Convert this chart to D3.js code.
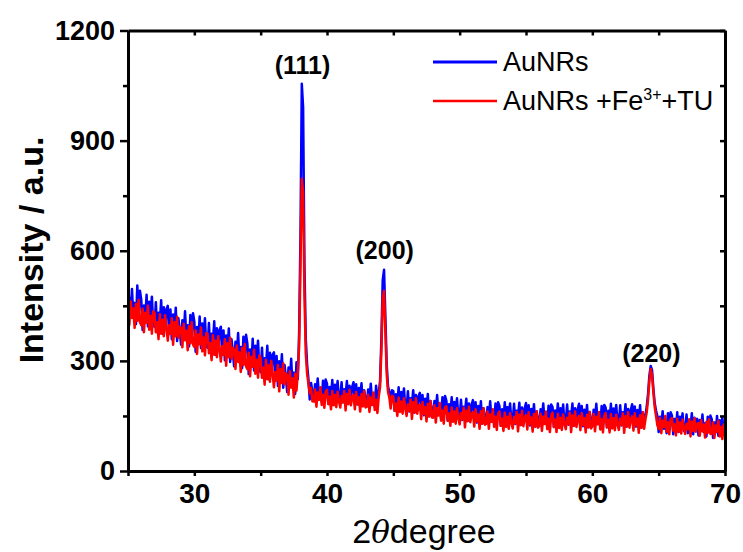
<!DOCTYPE html>
<meta charset='utf-8'>
<style>
body { margin: 0; background: #fff; }
svg { font-family: Arial, "Liberation Sans", sans-serif; }
.axis path, .axis line { stroke: #000; stroke-width: 2.5; }
.axis .domain { stroke-width: 3; }
.axis text { font-size: 27px; font-weight: bold; fill: #000; font-family: Arial, "Liberation Sans", sans-serif; }
.xaxis text { font-size: 28px; }
.peak { font-size: 25px; font-weight: bold; text-anchor: middle; }
.legend text { font-size: 27px; }
.xrd { fill: none; stroke-width: 2.5; stroke-linejoin: round; }
</style>
<svg width='743' height='552'></svg>
<script src='https://d3js.org/d3.v7.min.js'></script>
<script>

// 2θ, one row per degree
var twoTheta = [
  25.0,25.1,25.2,25.3,25.4,25.5,25.6,25.7,25.8,25.9,
  26.0,26.1,26.2,26.3,26.4,26.5,26.6,26.7,26.8,26.9,
  27.0,27.1,27.2,27.3,27.4,27.5,27.6,27.7,27.8,27.9,
  28.0,28.1,28.2,28.3,28.4,28.5,28.6,28.7,28.8,28.9,
  29.0,29.1,29.2,29.3,29.4,29.5,29.6,29.7,29.8,29.9,
  30.0,30.1,30.2,30.3,30.4,30.5,30.6,30.7,30.8,30.9,
  31.0,31.1,31.2,31.3,31.4,31.5,31.6,31.7,31.8,31.9,
  32.0,32.1,32.2,32.3,32.4,32.5,32.6,32.7,32.8,32.9,
  33.0,33.1,33.2,33.3,33.4,33.5,33.6,33.7,33.8,33.9,
  34.0,34.1,34.2,34.3,34.4,34.5,34.6,34.7,34.8,34.9,
  35.0,35.1,35.2,35.3,35.4,35.5,35.6,35.7,35.8,35.9,
  36.0,36.1,36.2,36.3,36.4,36.5,36.6,36.7,36.8,36.9,
  37.0,37.1,37.2,37.3,37.4,37.5,37.6,37.7,37.8,37.9,
  38.0,38.1,38.2,38.3,38.4,38.5,38.6,38.7,38.8,38.9,
  39.0,39.1,39.2,39.3,39.4,39.5,39.6,39.7,39.8,39.9,
  40.0,40.1,40.2,40.3,40.4,40.5,40.6,40.7,40.8,40.9,
  41.0,41.1,41.2,41.3,41.4,41.5,41.6,41.7,41.8,41.9,
  42.0,42.1,42.2,42.3,42.4,42.5,42.6,42.7,42.8,42.9,
  43.0,43.1,43.2,43.3,43.4,43.5,43.6,43.7,43.8,43.9,
  44.0,44.1,44.2,44.3,44.4,44.5,44.6,44.7,44.8,44.9,
  45.0,45.1,45.2,45.3,45.4,45.5,45.6,45.7,45.8,45.9,
  46.0,46.1,46.2,46.3,46.4,46.5,46.6,46.7,46.8,46.9,
  47.0,47.1,47.2,47.3,47.4,47.5,47.6,47.7,47.8,47.9,
  48.0,48.1,48.2,48.3,48.4,48.5,48.6,48.7,48.8,48.9,
  49.0,49.1,49.2,49.3,49.4,49.5,49.6,49.7,49.8,49.9,
  50.0,50.1,50.2,50.3,50.4,50.5,50.6,50.7,50.8,50.9,
  51.0,51.1,51.2,51.3,51.4,51.5,51.6,51.7,51.8,51.9,
  52.0,52.1,52.2,52.3,52.4,52.5,52.6,52.7,52.8,52.9,
  53.0,53.1,53.2,53.3,53.4,53.5,53.6,53.7,53.8,53.9,
  54.0,54.1,54.2,54.3,54.4,54.5,54.6,54.7,54.8,54.9,
  55.0,55.1,55.2,55.3,55.4,55.5,55.6,55.7,55.8,55.9,
  56.0,56.1,56.2,56.3,56.4,56.5,56.6,56.7,56.8,56.9,
  57.0,57.1,57.2,57.3,57.4,57.5,57.6,57.7,57.8,57.9,
  58.0,58.1,58.2,58.3,58.4,58.5,58.6,58.7,58.8,58.9,
  59.0,59.1,59.2,59.3,59.4,59.5,59.6,59.7,59.8,59.9,
  60.0,60.1,60.2,60.3,60.4,60.5,60.6,60.7,60.8,60.9,
  61.0,61.1,61.2,61.3,61.4,61.5,61.6,61.7,61.8,61.9,
  62.0,62.1,62.2,62.3,62.4,62.5,62.6,62.7,62.8,62.9,
  63.0,63.1,63.2,63.3,63.4,63.5,63.6,63.7,63.8,63.9,
  64.0,64.1,64.2,64.3,64.4,64.5,64.6,64.7,64.8,64.9,
  65.0,65.1,65.2,65.3,65.4,65.5,65.6,65.7,65.8,65.9,
  66.0,66.1,66.2,66.3,66.4,66.5,66.6,66.7,66.8,66.9,
  67.0,67.1,67.2,67.3,67.4,67.5,67.6,67.7,67.8,67.9,
  68.0,68.1,68.2,68.3,68.4,68.5,68.6,68.7,68.8,68.9,
  69.0,69.1,69.2,69.3,69.4,69.5,69.6,69.7,69.8,69.9,
  70.0
];

var auNRs = [
  405,472,434,496,419,458,400,505,429,491,
  466,384,451,408,480,394,461,422,475,398,
  393,460,379,431,407,465,374,446,388,441,
  450,373,440,359,426,388,445,354,416,383,
  344,411,373,435,358,397,339,425,368,430,
  407,325,392,349,421,335,402,363,416,339,
  336,403,322,374,350,408,317,389,331,384,
  393,316,383,302,369,331,388,297,359,326,
  285,352,314,376,299,338,280,366,309,371,
  346,264,331,288,360,274,341,302,355,278,
  269,336,255,307,283,341,250,322,264,317,
  323,246,313,232,299,261,318,227,289,256,
  215,282,244,306,229,268,210,296,250,380,
  640,1055,990,560,360,290,250,195,240,215,
  191,236,210,252,201,226,188,246,207,249,
  238,184,229,200,248,190,235,210,245,194,
  197,242,187,223,207,245,184,232,194,229,
  242,191,236,181,226,200,239,178,220,197,
  177,222,196,238,187,212,174,232,193,212,
  245,360,520,548,420,290,230,215,185,220,
  218,164,209,180,228,170,215,190,225,174,
  172,217,162,198,182,220,159,207,169,204,
  213,162,207,152,197,171,210,149,191,168,
  146,191,165,207,156,181,143,201,162,204,
  191,137,182,153,201,143,188,163,198,147,
  149,194,139,175,159,197,136,184,146,181,
  193,142,187,132,177,151,190,129,171,148,
  129,174,148,190,139,164,126,184,145,187,
  177,123,168,139,187,129,174,149,184,133,
  138,183,128,164,148,186,125,173,135,170,
  185,134,179,124,169,143,182,121,163,140,
  123,168,142,184,133,158,120,178,139,181,
  174,120,165,136,184,126,171,146,181,130,
  136,181,126,162,146,184,123,171,133,168,
  183,132,177,122,167,141,180,119,161,138,
  122,167,141,183,132,157,119,177,138,180,
  173,119,164,135,183,125,170,145,180,129,
  134,179,124,160,144,182,121,169,131,166,
  182,131,176,121,166,140,179,118,160,137,
  150,175,210,260,286,275,225,185,165,150,
  106,148,124,163,115,139,103,157,121,160,
  151,100,142,115,160,106,148,124,157,109,
  112,154,103,136,121,157,100,145,109,142,
  97,139,115,154,106,130,94,148,112,151,
  141,90,132,105,150,96,138,114,147,99,
  105
];

var auNRsFeTU = [
  451,398,462,417,443,390,455,409,466,405,
  397,442,378,431,404,450,385,423,374,435,
  431,378,405,359,427,374,412,367,424,389,
  355,397,374,416,344,405,367,420,363,393,
  390,337,401,356,382,329,394,348,405,344,
  338,383,319,372,345,391,326,364,315,376,
  374,321,348,302,370,317,355,310,367,332,
  298,340,317,359,287,348,310,363,306,336,
  331,278,342,297,323,270,335,289,346,285,
  277,322,258,311,284,330,265,303,254,315,
  307,254,281,235,303,250,288,243,300,265,
  228,270,247,289,217,278,240,293,236,266,
  261,208,272,227,253,200,265,219,270,340,
  560,796,760,480,320,265,238,212,226,190,
  189,222,175,214,194,228,180,208,172,217,
  221,182,202,168,218,179,207,174,216,190,
  173,204,187,218,165,210,182,221,179,201,
  207,168,215,182,201,162,210,176,218,173,
  175,208,161,200,180,214,166,194,158,203,
  230,330,470,491,380,265,215,200,170,205,
  203,164,184,150,200,161,189,156,198,172,
  150,181,164,195,142,187,159,198,156,178,
  180,141,188,155,174,135,183,149,191,146,
  146,179,132,171,151,185,137,165,129,174,
  176,137,157,123,173,134,162,129,171,145,
  127,158,141,172,119,164,136,175,133,155,
  160,121,168,135,154,115,163,129,171,126,
  129,162,115,154,134,168,120,148,112,157,
  162,123,143,109,159,120,148,115,157,131,
  116,147,130,161,108,153,125,164,122,144,
  152,113,160,127,146,107,155,121,163,118,
  123,156,109,148,128,162,114,142,106,151,
  159,120,140,106,156,117,145,112,154,128,
  114,145,128,159,106,151,123,162,120,142,
  150,111,158,125,144,105,153,119,161,116,
  122,155,108,147,127,161,113,141,105,150,
  158,119,139,105,155,116,144,111,153,127,
  112,143,126,157,104,149,121,160,118,140,
  149,110,157,124,143,104,152,118,160,115,
  140,160,195,245,278,262,215,175,150,125,
  115,145,103,137,120,150,107,133,100,140,
  144,110,127,97,142,107,132,102,140,117,
  101,129,114,141,94,134,109,144,107,127,
  131,96,138,108,126,91,134,104,141,101,
  102,132,90,124,107,137,94,120,87,127,
  115
];

var seriesNames = ['AuNRs', 'AuNRs +Fe'];
var seriesColors = ['#0000ff', '#ff0000'];
var yTicks = [0, 300, 600, 900, 1200];
var yMinor = [150, 450, 750, 1050];
var xTicks = [30, 40, 50, 60, 70];
var xMinor = [25, 35, 45, 55, 65];
var peakLabels = ['(111)', '(200)', '(220)'];
var peakPos = [[38.15, 1055], [44.35, 548], [64.45, 286]];
var peakGap = [10, 11, 4];

if (auNRs.length !== twoTheta.length || auNRsFeTU.length !== twoTheta.length) {
  throw new Error('length mismatch ' + twoTheta.length + ' ' + auNRs.length + ' ' + auNRsFeTU.length);
}

var svg = d3.select('svg'),
    plotL = 128, plotR = 725, plotT = 30.5, plotB = 471;

var x = d3.scaleLinear().domain([25, 70]).range([plotL, plotR]),
    y = d3.scaleLinear().domain([0, 1200]).range([plotB, plotT]);

svg.append('clipPath').attr('id', 'plot')
  .append('rect').attr('x', plotL).attr('y', plotT)
  .attr('width', plotR - plotL).attr('height', plotB - plotT);

var line = d3.line()
    .x(function(d, i) { return x(twoTheta[i]); })
    .y(function(d) { return y(d); });

var lines = svg.append('g').attr('clip-path', 'url(#plot)');
[auNRs, auNRsFeTU].forEach(function(s, k) {
  lines.append('path')
    .attr('class', 'xrd')
    .attr('stroke', seriesColors[k])
    .attr('d', line(s));
});

// axes: left/bottom ticks outward, right/top ticks inward
svg.append('g').attr('class', 'axis')
  .attr('transform', 'translate(' + plotL + ',0)')
  .call(d3.axisLeft(y).tickValues(yTicks).tickFormat(d3.format('d'))
    .tickSize(8).tickSizeOuter(0).tickPadding(5));
svg.append('g').attr('class', 'axis')
  .attr('transform', 'translate(' + plotL + ',0)')
  .call(d3.axisLeft(y).tickValues(yMinor).tickSize(5).tickFormat(''))
  .select('.domain').remove();
svg.append('g').attr('class', 'axis xaxis')
  .attr('transform', 'translate(0,' + plotB + ')')
  .call(d3.axisBottom(x).tickValues(xTicks).tickFormat(d3.format('d'))
    .tickSize(5).tickSizeOuter(0).tickPadding(7));
svg.append('g').attr('class', 'axis')
  .attr('transform', 'translate(0,' + plotB + ')')
  .call(d3.axisBottom(x).tickValues(xMinor).tickSize(5).tickFormat(''))
  .select('.domain').remove();
svg.append('g').attr('class', 'axis')
  .attr('transform', 'translate(' + plotR + ',0)')
  .call(d3.axisRight(y).tickValues(yTicks.concat(yMinor)).tickSize(-5).tickSizeOuter(0).tickFormat(''));
svg.append('g').attr('class', 'axis')
  .attr('transform', 'translate(0,' + plotT + ')')
  .call(d3.axisTop(x).tickValues(xTicks.concat(xMinor)).tickSize(-5).tickSizeOuter(0).tickFormat(''));

// titles
svg.append('text')
  .attr('transform', 'translate(30,250) rotate(-90)')
  .attr('dy', 13)
  .attr('text-anchor', 'middle')
  .style('font-size', '34px').style('font-weight', 'bold')
  .text('Intensity / a.u.');

var xt = svg.append('text')
  .attr('x', 424).attr('y', 543)
  .attr('text-anchor', 'middle')
  .style('font-size', '34px');
xt.append('tspan').text('2');
xt.append('tspan').style('font-style', 'italic').style('font-family', '"DejaVu Serif", serif').style('font-size', '31px').text('θ');
xt.append('tspan').text('degree');

// peak labels
svg.selectAll('.peak')
  .data(peakLabels)
  .enter().append('text')
  .attr('class', 'peak')
  .attr('x', function(d, i) { return x(peakPos[i][0]); })
  .attr('y', function(d, i) { return y(peakPos[i][1]) - peakGap[i]; })
  .text(function(d) { return d; });

// legend
var legend = svg.append('g').attr('class', 'legend');
seriesNames.forEach(function(name, k) {
  var ly = 62 + k * 39;
  legend.append('line')
    .attr('x1', 433).attr('x2', 497).attr('y1', ly).attr('y2', ly)
    .attr('stroke', seriesColors[k]).attr('stroke-width', k === 0 ? 3 : 2.5);
  var t = legend.append('text').attr('x', 503).attr('y', ly + 9).text(name);
  if (k === 1) {
    t.append('tspan').attr('dy', -10).style('font-size', '16px').text('3+');
    t.append('tspan').attr('dy', 10).text('+TU');
  }
});

</script>
